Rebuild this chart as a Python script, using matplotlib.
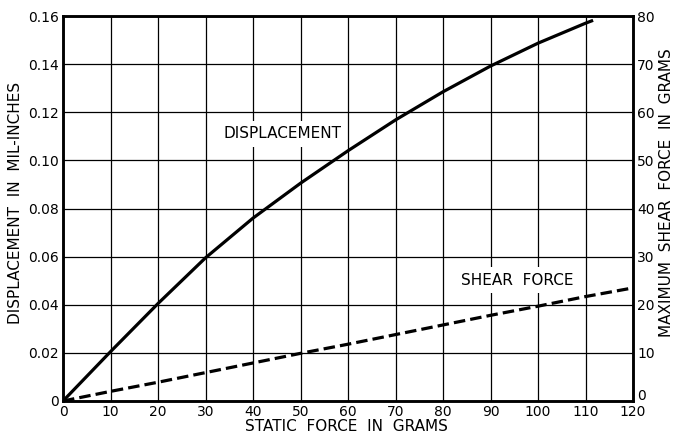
import numpy as np
import matplotlib
matplotlib.use('Agg')
import matplotlib.pyplot as plt
from matplotlib.ticker import MultipleLocator, FuncFormatter

# static force (grams) vs displacement (mil-inches)
force = [0, 10, 20, 30, 40, 50, 60, 70, 80, 90, 100, 110, 111.6]
displacement = [0, 0.0205, 0.0405, 0.0595, 0.0760, 0.0905, 0.1040, 0.1168,
                0.1285, 0.1392, 0.1487, 0.1570, 0.1582]

# static force vs maximum shear force (grams)
force_s = [0, 10, 20, 30, 40, 50, 60, 70, 80, 90, 100, 110, 120]
shear = [0, 2.0, 3.9, 5.9, 7.9, 9.9, 11.8, 13.8, 15.8, 17.8, 19.7, 21.7, 23.5]

plt.rcParams['font.family'] = 'DejaVu Sans'
fig = plt.figure(figsize=(6.73, 4.34), dpi=100)
ax1 = fig.add_axes([63/673, 1 - 401/434, 570/673, 385/434])
ax2 = ax1.twinx()

ax1.plot(force, displacement, color='black', lw=2.3,
         solid_joinstyle='round', solid_capstyle='butt')
ax2.plot(force_s, shear, color='black', lw=2.3, linestyle=(0, (3.6, 1.6)))

ax1.set_xlim(0, 120)
ax1.set_ylim(0, 0.16)
ax2.set_ylim(0, 80)

ax1.xaxis.set_major_locator(MultipleLocator(10))
ax1.yaxis.set_major_locator(MultipleLocator(0.02))
ax2.yaxis.set_major_locator(MultipleLocator(10))

def fmt(v, pos):
    if abs(v) < 1e-9:
        return '0'
    return '{:.2f}'.format(v)
ax1.yaxis.set_major_formatter(FuncFormatter(fmt))

def fmt_right(v, pos):
    # trailing newline lifts the bottom "0" clear of the "120" below it
    if abs(v) < 1e-9:
        return '0\n'
    return '{:.0f}'.format(v)
ax2.yaxis.set_major_formatter(FuncFormatter(fmt_right))

ax1.grid(True, color='black', lw=0.9)
ax1.set_axisbelow(True)
for ax in (ax1, ax2):
    ax.tick_params(length=0, labelsize=10, pad=3)
    for s in ax.spines.values():
        s.set_linewidth(1.8)

ax1.set_xlabel('STATIC  FORCE  IN  GRAMS', fontsize=11)
ax1.set_ylabel('DISPLACEMENT  IN  MIL-INCHES', fontsize=11)
ax2.set_ylabel('MAXIMUM  SHEAR  FORCE  IN  GRAMS', fontsize=11)
ax1.xaxis.set_label_coords(0.498, -0.0675)
ax1.yaxis.set_label_coords(-0.0825, 0.514)
ax2.yaxis.set_label_coords(1.0596, 0.54)
ax1.xaxis.label.set_va('center')
ax1.yaxis.label.set_va('center')
ax2.yaxis.label.set_va('center')

box = dict(facecolor='white', edgecolor='none', pad=4)
ax1.text(46.3, 0.111, 'DISPLACEMENT', ha='center', va='center',
         fontsize=11, bbox=box, zorder=3)
ax2.text(95.6, 25.1, 'SHEAR  FORCE', ha='center', va='center',
         fontsize=11, bbox=box, zorder=3)

fig.savefig('out.png', dpi=100)
